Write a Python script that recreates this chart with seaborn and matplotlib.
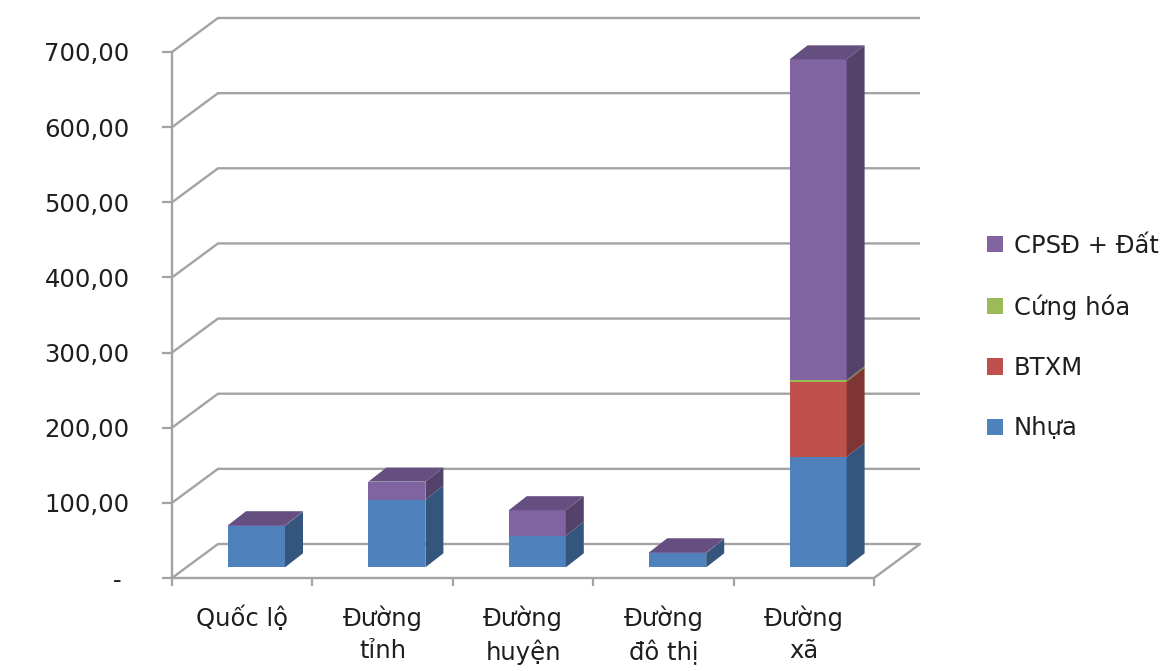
import numpy as np
import matplotlib
matplotlib.use("Agg")
import matplotlib.pyplot as plt
from matplotlib.patches import Polygon, Patch
from matplotlib.colors import to_rgb
import seaborn as sns

# Road network length by surface type (km)
categories = ["Quốc lộ", "Đường\ntỉnh", "Đường\nhuyện", "Đường\nđô thị", "Đường\nxã"]
series_names = ["Nhựa", "BTXM", "Cứng hóa", "CPSĐ + Đất"]
nhua = [55, 90, 42, 19, 147]
btxm = [0, 0, 0, 0, 100]
cung_hoa = [0, 0, 0, 0, 2]
cpsd_dat = [1, 24, 34, 1, 427]
series_values = [nhua, btxm, cung_hoa, cpsd_dat]
series_colors = ["#4F81BD", "#C0504D", "#9BBB59", "#8064A2"]
y_ticks = [0, 100, 200, 300, 400, 500, 600, 700]
y_tick_labels = ["- ", "100,00", "200,00", "300,00", "400,00", "500,00", "600,00", "700,00"]

GRID = "#a3a3a3"
TEXT = "#1e1e1e"
FS = 17.5

# oblique depth offsets, in pixels (display coords)
FLOOR_D = (46, 34)        # front edge -> back wall
BAR_FRONT = (14.3, 10.7)  # front edge -> bar front face
BAR_D = (18, 14)          # bar depth
BAR_W = 0.406


def shade(color, f):
    r, g, b = to_rgb(color)
    return (r * f, g * f, b * f)


sns.set_theme(style="white")
plt.rcParams["font.family"] = ["DejaVu Sans"]

W, H = 1167, 671
fig = plt.figure(figsize=(W / 100, H / 100), dpi=100)
ax = fig.add_axes([172 / W, 93 / H, 702 / W, 526 / H])

cum = np.cumsum(np.array(series_values, dtype=float), axis=0)

# stacked columns: draw cumulative totals from the top series down
first_patches = None
for k in reversed(range(len(series_names))):
    n_before = len(ax.patches)
    sns.barplot(x=categories, y=cum[k], color=series_colors[k], width=BAR_W,
                saturation=1, linewidth=0, errorbar=None, ax=ax, zorder=3)
    if first_patches is None:
        first_patches = list(ax.patches[n_before:])

ax.set_xlim(-0.5, len(categories) - 0.5)
ax.set_ylim(0, 700)
ax.set_xlabel("")
ax.set_ylabel("")

# pixel -> data conversion
o = ax.transData.transform((0, 0))
ux = ax.transData.transform((1, 0))[0] - o[0]
uy = ax.transData.transform((0, 1))[1] - o[1]
Dx, Dy = FLOOR_D[0] / ux, FLOOR_D[1] / uy
fx, fy = BAR_FRONT[0] / ux, BAR_FRONT[1] / uy
bx, by = BAR_D[0] / ux, BAR_D[1] / uy

for p in ax.patches:
    p.set_x(p.get_x() + fx)
    p.set_y(p.get_y() + fy)

# side and top faces
for i, p in enumerate(first_patches):
    x0 = p.get_x()
    x1 = x0 + p.get_width()
    base = p.get_y()
    prev = 0.0
    top_color = None
    for k in range(len(series_names)):
        y0, y1 = base + prev, base + cum[k][i]
        if cum[k][i] - prev > 0:
            side = Polygon([(x1, y0), (x1 + bx, y0 + by), (x1 + bx, y1 + by), (x1, y1)],
                           closed=True, facecolor=shade(series_colors[k], 0.66),
                           edgecolor="none", zorder=3, clip_on=False)
            ax.add_patch(side)
            top_color = series_colors[k]
        prev = cum[k][i]
    T = base + cum[-1][i]
    top = Polygon([(x0, T), (x1, T), (x1 + bx, T + by), (x0 + bx, T + by)],
                  closed=True, facecolor=shade(top_color, 0.79),
                  edgecolor="none", zorder=3, clip_on=False)
    ax.add_patch(top)

# walls: side-wall diagonals and back-wall gridlines
xl, xr = -0.5, len(categories) - 0.5
for v in y_ticks:
    ax.plot([xl, xl + Dx, xr + Dx], [v, v + Dy, v + Dy], color=GRID, lw=1.7,
            solid_capstyle="butt", zorder=1, clip_on=False)
ax.plot([xr, xr + Dx], [0, Dy], color=GRID, lw=1.7, zorder=1, clip_on=False)

# axes frame and ticks
for s in ["top", "right"]:
    ax.spines[s].set_visible(False)
for s in ["left", "bottom"]:
    ax.spines[s].set_color(GRID)
    ax.spines[s].set_linewidth(1.7)
    ax.spines[s].set_zorder(2)

ax.set_yticks(y_ticks, y_tick_labels)
ax.tick_params(axis="y", left=True, length=7.5, width=1.6, color=GRID, pad=23,
               labelsize=FS, labelcolor=TEXT)
ax.set_xticks(range(len(categories)), categories)
ax.set_xticks(np.arange(-0.5, len(categories)), minor=True)
ax.tick_params(axis="x", which="major", bottom=True, length=0, pad=20,
               labelsize=FS, labelcolor=TEXT)
ax.tick_params(axis="x", which="minor", bottom=True, length=6, width=1.6, color=GRID)
for t in ax.get_xticklabels():
    t.set_linespacing(1.4)

handles = [Patch(facecolor=c, edgecolor="none", label=n)
           for n, c in zip(reversed(series_names), reversed(series_colors))]
fig.legend(handles=handles, loc="center left", bbox_to_anchor=(987 / W, 1 - 337 / H),
           frameon=False, fontsize=FS, handlelength=0.65, handleheight=0.65,
           handletextpad=0.45, labelspacing=1.5, borderpad=0, borderaxespad=0,
           labelcolor=TEXT)

fig.savefig("out.png", dpi=100)
